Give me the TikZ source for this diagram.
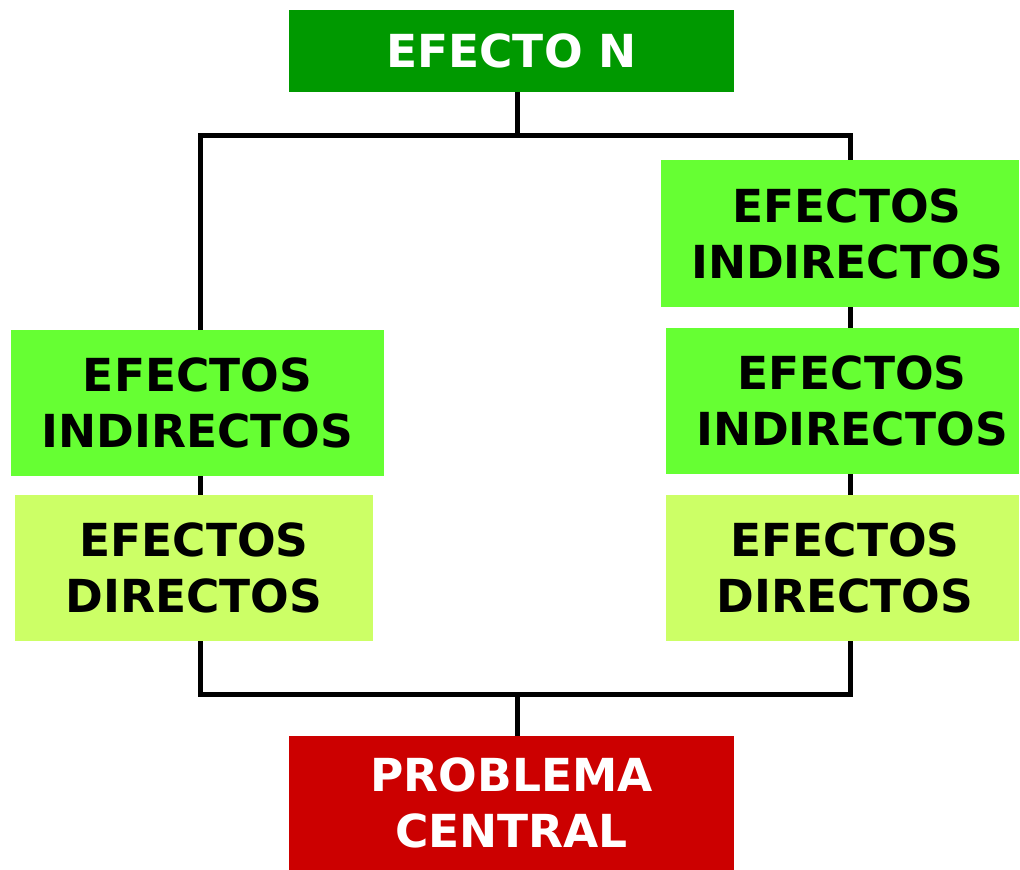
\documentclass[tikz,border=0pt]{standalone}
\usepackage{fontspec}
\setmainfont{DejaVu Sans}
\definecolor{dkgreen}{HTML}{009900}
\definecolor{brgreen}{HTML}{66FF33}
\definecolor{ltgreen}{HTML}{CCFF66}
\definecolor{dkred}{HTML}{CC0000}
\begin{document}
\begin{tikzpicture}[x=1pt,y=-1pt,
  box/.style={draw=none,inner sep=0pt,align=center,font=\fontsize{45.5}{56}\selectfont\bfseries},
  conn/.style={line width=5pt,black}]
\useasboundingbox (0,0) rectangle (1020,870);
\coordinate (tl) at (200,135);
\coordinate (tr) at (850,135);
\coordinate (bl) at (200,694);
\coordinate (br) at (850,694);
\coordinate (tc) at (517,135);
\coordinate (bc) at (517,694);
% boxes
\fill[dkgreen] (289,10) rectangle (734,92);
\node[box,text=white] (en) at (511.5,51) {EFECTO N};
\fill[brgreen] (11,330) rectangle (384,476);
\node[box] (li) at (197.5,403) {EFECTOS\\INDIRECTOS};
\fill[ltgreen] (15,495) rectangle (373,641);
\node[box] (ld) at (194,568) {EFECTOS\\DIRECTOS};
\fill[brgreen] (661,160) rectangle (1019,307);
\node[box] (ri1) at (847,233.5) {EFECTOS\\INDIRECTOS};
\fill[brgreen] (666,328) rectangle (1019,474);
\node[box] (ri2) at (852,401) {EFECTOS\\INDIRECTOS};
\fill[ltgreen] (666,495) rectangle (1019,641);
\node[box] (rd) at (845,568) {EFECTOS\\DIRECTOS};
\fill[dkred] (289,736) rectangle (734,870);
\node[box,text=white] (pc) at (511.5,803) {PROBLEMA\\CENTRAL};
% lines
\draw[conn] (517,92) -- (tc);
\draw[conn] (200,330) -- (tl) -- (tr) -- (850,160);
\draw[conn] (200,476) -- (200,495);
\draw[conn] (850,307) -- (850,328);
\draw[conn] (850,474) -- (850,495);
\draw[conn] (200,641) -- (bl) -- (br) -- (850,641);
\draw[conn] (bc) -- (517,736);
\end{tikzpicture}
\end{document}
